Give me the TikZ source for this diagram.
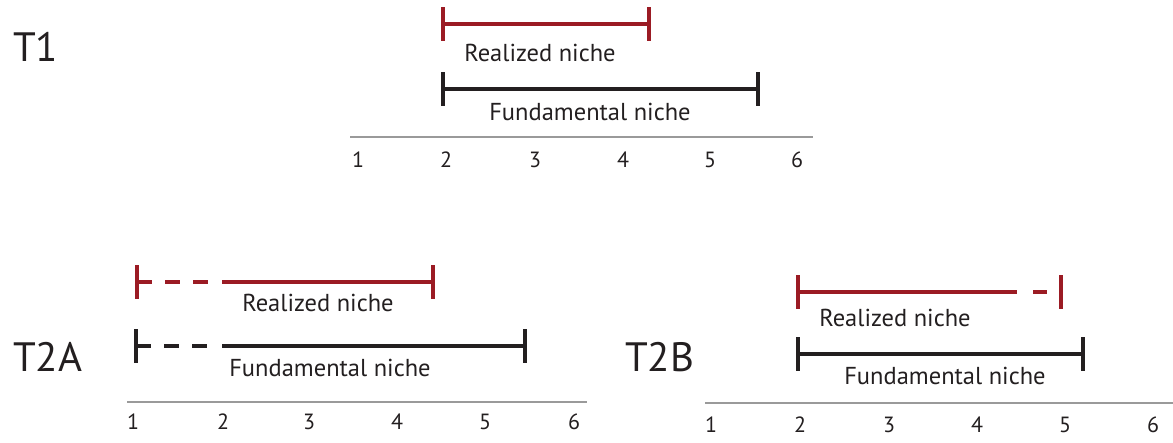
\documentclass[tikz,border=0pt]{standalone}
\usepackage{fontspec}
\setmainfont{PT Sans}
\definecolor{nred}{HTML}{9B1B24}
\definecolor{nblack}{HTML}{231F20}
\definecolor{naxis}{HTML}{9A9A9A}
\tikzset{
  bar/.style={line width=4.5pt},
  redbar/.style={bar, draw=nred},
  blackbar/.style={bar, draw=nblack},
  axisline/.style={draw=naxis, line width=1.3pt},
  lbl/.style={font=\fontsize{24.5}{28}\selectfont, text=nblack, inner sep=0pt, anchor=base},
  num/.style={font=\fontsize{22}{26}\selectfont, text=nblack, inner sep=0pt, anchor=base},
  title/.style={font=\fontsize{41}{46}\selectfont, text=nblack, inner sep=0pt, anchor=base west},
  dsh/.style={dash pattern=on 15pt off 13pt}
}
\begin{document}
\begin{tikzpicture}[x=1pt,y=-1pt]
\useasboundingbox (0,0) rectangle (1173,443);
% ---------- T1 ----------
\node[title] (t1) at (13,62) {T1};
\coordinate (r1a) at (443,24); \coordinate (r1b) at (649,24);
\coordinate (f1a) at (443,89); \coordinate (f1b) at (758,89);
\draw[redbar] (r1a) -- (r1b);
\draw[redbar] ([yshift=-17pt]r1a) -- ([yshift=17pt]r1a);
\draw[redbar] ([yshift=-17pt]r1b) -- ([yshift=17pt]r1b);
\draw[blackbar] (f1a) -- (f1b);
\draw[blackbar] ([yshift=-17pt]f1a) -- ([yshift=17pt]f1a);
\draw[blackbar] ([yshift=-17pt]f1b) -- ([yshift=17pt]f1b);
\node[lbl] (rn1) at (540,62) {Realized niche};
\node[lbl] (fn1) at (590,121) {Fundamental niche};
\coordinate (ax1a) at (350,137); \coordinate (ax1b) at (813,137);
\draw[axisline] (ax1a) -- (ax1b);
\foreach \i/\x in {1/358,2/446,3/535,4/623,5/710,6/797}
  \node[num] (n1\i) at (\x,168) {\i};
% ---------- T2A ----------
\node[title] (t2a) at (13,372) {T2A};
\coordinate (r2a) at (137,282); \coordinate (r2m) at (209,282);
\coordinate (r2n) at (222,282); \coordinate (r2b) at (433,282);
\draw[redbar,dsh] (r2a) -- (r2m);
\draw[redbar] (r2n) -- (r2b);
\draw[redbar] ([yshift=-17pt]r2a) -- ([yshift=17pt]r2a);
\draw[redbar] ([yshift=-17pt]r2b) -- ([yshift=17pt]r2b);
\coordinate (f2a) at (136,346); \coordinate (f2m) at (209,346);
\coordinate (f2n) at (222,346); \coordinate (f2b) at (525,346);
\draw[blackbar,dsh] (f2a) -- (f2m);
\draw[blackbar] (f2n) -- (f2b);
\draw[blackbar] ([yshift=-17pt]f2a) -- ([yshift=17pt]f2a);
\draw[blackbar] ([yshift=-17pt]f2b) -- ([yshift=17pt]f2b);
\node[lbl] (rn2) at (318,312) {Realized niche};
\node[lbl] (fn2) at (330,377) {Fundamental niche};
\coordinate (ax2a) at (127,402); \coordinate (ax2b) at (587,402);
\draw[axisline] (ax2a) -- (ax2b);
\foreach \i/\x in {1/133,2/223,3/309,4/397,5/485,6/574}
  \node[num] (n2\i) at (\x,430) {\i};
% ---------- T2B ----------
\node[title] (t2b) at (625,372) {T2B};
\coordinate (r3a) at (798,292); \coordinate (r3m) at (1017,292);
\coordinate (r3n) at (1033,292); \coordinate (r3o) at (1047,292);
\coordinate (r3b) at (1061,292);
\draw[redbar] (r3a) -- (r3m);
\draw[redbar] (r3n) -- (r3o);
\draw[redbar] ([yshift=-17pt]r3a) -- ([yshift=17pt]r3a);
\draw[redbar] ([yshift=-17pt]r3b) -- ([yshift=17pt]r3b);
\coordinate (f3a) at (798,354); \coordinate (f3b) at (1083,354);
\draw[blackbar] (f3a) -- (f3b);
\draw[blackbar] ([yshift=-17pt]f3a) -- ([yshift=17pt]f3a);
\draw[blackbar] ([yshift=-17pt]f3b) -- ([yshift=17pt]f3b);
\node[lbl] (rn3) at (895,327) {Realized niche};
\node[lbl] (fn3) at (945,385) {Fundamental niche};
\coordinate (ax3a) at (705,403); \coordinate (ax3b) at (1173,403);
\draw[axisline] (ax3a) -- (ax3b);
\foreach \i/\x in {1/711,2/800,3/889,4/977,5/1065,6/1153}
  \node[num] (n3\i) at (\x,432) {\i};
\end{tikzpicture}
\end{document}
